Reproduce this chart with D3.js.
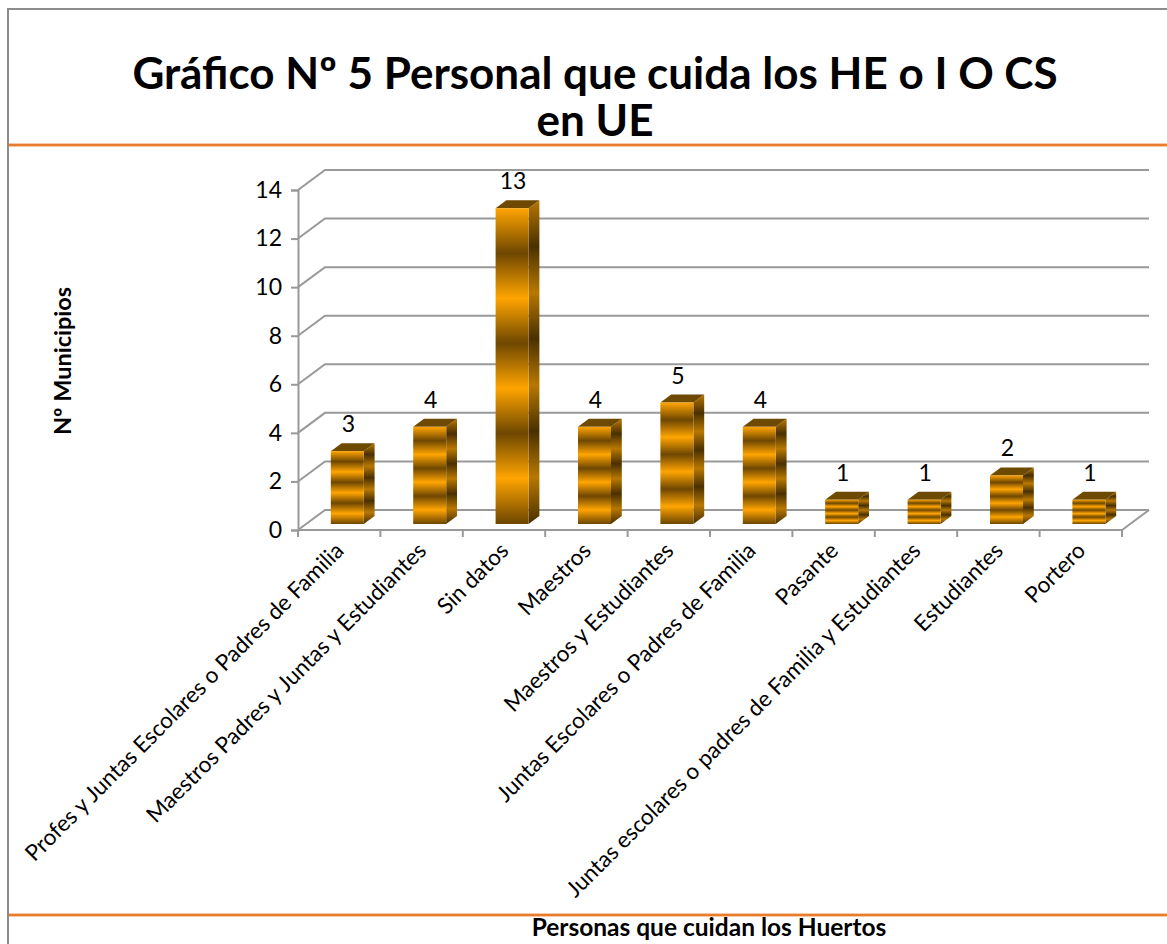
<!DOCTYPE html>
<html>
<head>
<meta charset="utf-8">
<script src="https://cdn.jsdelivr.net/npm/d3@7"></script>
<style>
  body { margin: 0; background: #fff; }
  svg { display: block; font-family: Lato, "Open Sans", sans-serif; }
</style>
</head>
<body>
<div id="chart"></div>
<script>
var categories = [
  "Profes y Juntas Escolares o Padres de Familia",
  "Maestros Padres y Juntas y Estudiantes",
  "Sin datos",
  "Maestros",
  "Maestros y Estudiantes",
  "Juntas Escolares o Padres de Familia",
  "Pasante",
  "Juntas escolares o padres de Familia y Estudiantes",
  "Estudiantes",
  "Portero"
];
var values = [3, 4, 13, 4, 5, 4, 1, 1, 2, 1];
var yTicks = [0, 2, 4, 6, 8, 10, 12, 14];
var titleLines = ["Gráfico Nº 5 Personal que cuida los HE o I O CS", "en UE"];

var width = 1167, height = 944;
var svg = d3.select("#chart").append("svg")
    .attr("width", width)
    .attr("height", height);

// depth of the 3d box
var depthX = 27, depthY = -20;

var x = d3.scaleBand()
    .domain(categories)
    .range([298, 1122]);

var y = d3.scaleLinear()
    .domain([0, 14])
    .range([530, 190]);

// gradients for bars
var defs = svg.append("defs");
function stripes(id, light, dark) {
  var g = defs.append("linearGradient")
      .attr("id", id)
      .attr("x1", 0).attr("y1", 0)
      .attr("x2", 0).attr("y2", 0.285)
      .attr("spreadMethod", "repeat");
  g.append("stop").attr("offset", "0%").attr("stop-color", light);
  g.append("stop").attr("offset", "25%").attr("stop-color", d3.interpolateRgb(light, dark)(0.5));
  g.append("stop").attr("offset", "50%").attr("stop-color", dark);
  g.append("stop").attr("offset", "75%").attr("stop-color", d3.interpolateRgb(light, dark)(0.5));
  g.append("stop").attr("offset", "100%").attr("stop-color", light);
}
stripes("frontGrad", "#ffa500", "#6e4700");
stripes("sideGrad", "#b87800", "#4a3000");

// frame
svg.append("line")
    .attr("x1", 8).attr("x2", width).attr("y1", 9).attr("y2", 9)
    .attr("stroke", "#8c8c8c").attr("stroke-width", 2);
svg.append("line")
    .attr("x1", 8).attr("x2", 8).attr("y1", 8).attr("y2", height)
    .attr("stroke", "#8c8c8c").attr("stroke-width", 2);
[145, 915].forEach(function (yy) {
  svg.append("line")
      .attr("x1", 9).attr("x2", width).attr("y1", yy).attr("y2", yy)
      .attr("stroke", "#f7c9a6").attr("stroke-width", 4);
  svg.append("line")
      .attr("x1", 9).attr("x2", width).attr("y1", yy).attr("y2", yy)
      .attr("stroke", "#e97b2d").attr("stroke-width", 2);
});

// title
svg.append("text")
    .attr("x", 595)
    .attr("y", 89)
    .attr("text-anchor", "middle")
    .style("font-size", "44px")
    .style("font-weight", "bold")
    .selectAll("tspan")
    .data(titleLines)
    .enter().append("tspan")
    .attr("x", 595)
    .attr("dy", function (d, i) { return i ? 47 : 0; })
    .text(function (d) { return d; });

var grid = svg.append("g").attr("fill", "none").attr("stroke", "#999").attr("stroke-width", 2);
var x0 = x.range()[0], x1 = x.range()[1];

// back wall gridlines with diagonal from the side wall
grid.selectAll("path.grid")
    .data(yTicks)
    .enter().append("path")
    .attr("class", "grid")
    .attr("d", function (d) {
      return "M" + x0 + "," + y(d) + "L" + (x0 + depthX) + "," + (y(d) + depthY) +
             "L" + (x1 + depthX) + "," + (y(d) + depthY);
    });

// floor front edge and right side
grid.append("path")
    .attr("d", "M" + x0 + "," + y(0) + "L" + x1 + "," + y(0) + "L" + (x1 + depthX) + "," + (y(0) + depthY));

// y axis
var yAxis = svg.append("g")
    .attr("transform", "translate(" + x0 + ",0)")
    .call(d3.axisLeft(y).tickValues(yTicks).tickSize(7).tickPadding(9));
yAxis.select(".domain").attr("stroke", "#999").attr("stroke-width", 2);
yAxis.selectAll(".tick line").attr("stroke", "#999").attr("stroke-width", 2);
yAxis.selectAll(".tick text")
    .attr("fill", "#000")
    .style("font-size", "23px")
    .style("font-family", "Lato, sans-serif");

// category ticks on the floor edge
svg.append("g").selectAll("line")
    .data(d3.range(categories.length + 1))
    .enter().append("line")
    .attr("x1", function (i) { return x0 + i * x.step(); })
    .attr("x2", function (i) { return x0 + i * x.step(); })
    .attr("y1", y(0))
    .attr("y2", y(0) + 7)
    .attr("stroke", "#999")
    .attr("stroke-width", 2);

// bars
var barW = 33;
var dFront = 0.3, dBack = 0.7;
var bars = svg.append("g").selectAll("g")
    .data(values)
    .enter().append("g")
    .attr("transform", function (d, i) {
      var cx = x(categories[i]) + x.bandwidth() / 2;
      return "translate(" + (cx - barW / 2 + depthX * dFront) + "," + (depthY * dFront) + ")";
    });

var sx = depthX * (dBack - dFront), sy = depthY * (dBack - dFront);

bars.append("path")
    .attr("fill", "url(#sideGrad)")
    .attr("d", function (d) {
      return "M" + barW + "," + y(d) + "L" + (barW + sx) + "," + (y(d) + sy) +
             "L" + (barW + sx) + "," + (y(0) + sy) + "L" + barW + "," + y(0) + "Z";
    });

bars.append("path")
    .attr("fill", "#6e4a00")
    .attr("d", function (d) {
      return "M0," + y(d) + "L" + sx + "," + (y(d) + sy) + "L" + (barW + sx) + "," + (y(d) + sy) +
             "L" + barW + "," + y(d) + "Z";
    });

bars.append("rect")
    .attr("x", 0)
    .attr("y", function (d) { return y(d); })
    .attr("width", barW)
    .attr("height", function (d) { return y(0) - y(d); })
    .attr("fill", "url(#frontGrad)");

// value labels
bars.append("text")
    .attr("x", barW / 2 + 1)
    .attr("y", function (d) { return y(d) - 19; })
    .attr("text-anchor", "middle")
    .style("font-size", "23px")
    .text(function (d) { return d; });

// x labels
svg.append("g").selectAll("text")
    .data(categories)
    .enter().append("text")
    .attr("transform", function (d) {
      return "translate(" + (x(d) + x.bandwidth() / 2 + 6) + "," + (y(0) + 22) + ") rotate(-45)";
    })
    .attr("text-anchor", "end")
    .style("font-size", "22.5px")
    .text(function (d) { return d; });

// axis titles
svg.append("text")
    .attr("transform", "translate(71,361) rotate(-90)")
    .attr("text-anchor", "middle")
    .style("font-size", "23.5px")
    .style("font-weight", "bold")
    .text("Nº Municipios");

svg.append("text")
    .attr("x", 709)
    .attr("y", 936)
    .attr("text-anchor", "middle")
    .style("font-size", "24.5px")
    .style("font-weight", "bold")
    .text("Personas que cuidan los Huertos");
</script>
</body>
</html>
